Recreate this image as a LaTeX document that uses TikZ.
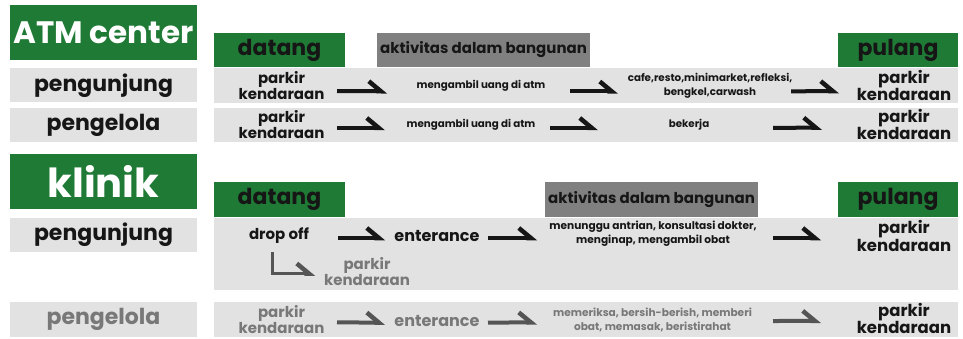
\documentclass[tikz,border=0pt]{standalone}
\usepackage{fontspec}
\setmainfont{Poppins}
\usetikzlibrary{arrows.meta, positioning}
\definecolor{hijau}{RGB}{31,122,53}
\definecolor{abu}{RGB}{128,128,128}
\definecolor{pitaabu}{RGB}{226,226,226}
\definecolor{teks}{RGB}{22,22,22}
\definecolor{pudar}{RGB}{120,120,120}
\definecolor{panahpudar}{RGB}{85,85,85}

\begin{document}
\begin{tikzpicture}[x=1pt, y=-1pt,
      judul/.style={fill=hijau, text=white, minimum width=187pt, minimum height=55pt,
                    inner sep=0pt, font=\fontsize{31}{33}\selectfont\bfseries},
      kepala/.style={fill=hijau, text=teks, minimum height=34pt, inner sep=0pt,
                     font=\fontsize{22}{24}\selectfont\bfseries},
      ruang/.style={fill=abu, text=teks, minimum width=213pt, minimum height=34pt,
                    inner sep=0pt, font=\fontsize{15}{17}\selectfont\bfseries},
      peran/.style={fill=pitaabu, text=teks, minimum width=187pt, minimum height=34pt,
                    inner sep=0pt, font=\fontsize{22}{24}\selectfont\bfseries},
      pita/.style={fill=pitaabu, minimum width=744pt, inner sep=0pt},
      langkah/.style={align=center, inner sep=0pt, text=teks,
                      font=\fontsize{15}{14.5}\selectfont\bfseries},
      akhir/.style={align=center, inner sep=0pt, text=teks,
                    font=\fontsize{16.5}{15}\selectfont\bfseries},
      kecil/.style={align=center, inner sep=0pt, text=teks,
                    font=\fontsize{10.3}{14}\selectfont\bfseries},
      harp/.style={line width=4pt, teks,
                   -{Straight Barb[harpoon, length=12pt, width=20pt, line width=4.5pt]}},
    ]
    \useasboundingbox (0,0) rectangle (963,339);

    % ---- ATM center ----
    \node[judul] (atm) at (103.5,32.5) {ATM center};
    \node[kepala, minimum width=131pt] (datang1) at (279.5,50) {datang};
    \node[ruang] (ruang1) at (483.5,50) {aktivitas dalam bangunan};
    \node[kepala, minimum width=120pt] (pulang1) at (898,50) {pulang};

    \node[peran] (pengunjung1) at (103.5,85.5) {pengunjung};
    \node[pita, minimum height=35pt] (pita1) at (586,85.5) {};
    \node[peran] (pengelola1) at (103.5,125) {pengelola};
    \node[pita, minimum height=34pt] (pita2) at (586,125) {};

    % pengunjung
    \node[langkah] (p1) at (281.5,85.5) {parkir\\kendaraan};
    \node[kecil] (m1) at (481,86) {mengambil uang di atm};
    \node[kecil] (c1) at (710,86) {cafe,resto,minimarket,refleksi,\\bengkel,carwash};
    \node[akhir] (q1) at (904,85.5) {parkir\\kendaraan};
    \draw[harp, shorten <=55.5pt, shorten >=94pt] ([yshift=-5.5pt]p1.center) -- ([yshift=-5.5pt]m1.center);
    \draw[harp, shorten <=89pt, shorten >=92pt] ([yshift=-5.5pt]m1.center) -- ([yshift=-5.5pt]c1.center);
    \draw[harp, shorten <=81pt, shorten >=65pt] ([yshift=-5.5pt]c1.center) -- ([yshift=-5.5pt]q1.center);

    % pengelola
    \node[langkah] (p2) at (281.5,125) {parkir\\kendaraan};
    \node[kecil] (m2) at (471,125) {mengambil uang di atm};
    \node[kecil] (b2) at (689,125) {bekerja};
    \node[akhir] (q2) at (904,124.5) {parkir\\kendaraan};
    \draw[harp, shorten <=55.5pt, shorten >=86pt] ([yshift=-3pt]p2.center) -- ([yshift=-3pt]m2.center);
    \draw[harp, shorten <=79pt, shorten >=91pt] ([yshift=-3pt]m2.center) -- ([yshift=-3pt]b2.center);
    \draw[harp, shorten <=84pt, shorten >=82pt] ([yshift=-3pt]b2.center) -- ([yshift=-3pt]q2.center);

    % ---- klinik ----
    \node[judul, font=\fontsize{40}{42}\selectfont\bfseries] (klinik) at (103.5,181.5) {klinik};
    \node[kepala, minimum width=131pt] (datang2) at (279.5,199.5) {datang};
    \node[ruang] (ruang2) at (651.5,199.5) {aktivitas dalam bangunan};
    \node[kepala, minimum width=120pt] (pulang2) at (898,199.5) {pulang};

    \node[peran] (pengunjung2) at (103.5,235) {pengunjung};
    \node[pita, minimum height=72pt] (pita3) at (586,254) {};
    \node[peran, minimum height=35pt, text=pudar] (pengelola2) at (103.5,319.5) {pengelola};
    \node[pita, minimum height=35pt] (pita4) at (586,319.5) {};

    % pengunjung
    \node[langkah] (d3) at (279,236) {drop off};
    \node[langkah, font=\fontsize{16}{16}\selectfont\bfseries] (e3) at (437,236) {enterance};
    \node[kecil, font=\fontsize{10.6}{14}\selectfont\bfseries] (g3) at (653,234)
      {menunggu antrian, konsultasi dokter,\\menginap, mengambil obat};
    \node[akhir] (q3) at (904,236) {parkir\\kendaraan};
    \node[langkah, text=pudar] (r3) at (367,271.5) {parkir\\kendaraan};
    \draw[harp, shorten <=59pt, shorten >=52pt] ([yshift=-2pt]d3.center) -- ([yshift=-2pt]e3.center);
    \draw[harp, shorten <=51pt, shorten >=116pt] ([yshift=-2pt]e3.center) -- ([yshift=-2pt]g3.center |- e3.center);
    \draw[harp, shorten <=120pt, shorten >=83pt] ([yshift=-2pt]g3.center |- e3.center) -- ([yshift=-2pt]q3.center);
    \draw[harp, panahpudar, line width=3pt, shorten <=16pt, shorten >=52pt]
      ([xshift=-7pt]d3.center) |- ([yshift=-2pt]r3.center);

    % pengelola
    \node[langkah, text=pudar] (p4) at (281.5,320) {parkir\\kendaraan};
    \node[langkah, text=pudar, font=\fontsize{16}{16}\selectfont\bfseries] (e4) at (437,321) {enterance};
    \node[kecil, text=pudar, font=\fontsize{10.6}{14}\selectfont\bfseries] (g4) at (652.5,319.5)
      {memeriksa, bersih-berish, memberi\\obat, memasak, beristirahat};
    \node[akhir] (q4) at (904,318.5) {parkir\\kendaraan};
    \draw[harp, panahpudar, shorten <=55.5pt, shorten >=52pt] ([yshift=-2pt]p4.center) -- ([yshift=-2pt]e4.center);
    \draw[harp, panahpudar, shorten <=51pt, shorten >=115.5pt] ([yshift=-2pt]e4.center) -- ([yshift=-2pt]g4.center);
    \draw[harp, panahpudar, shorten <=120.5pt, shorten >=83pt] ([yshift=-2pt]g4.center) -- ([yshift=-2pt]q4.center);
  \end{tikzpicture}
\end{document}
